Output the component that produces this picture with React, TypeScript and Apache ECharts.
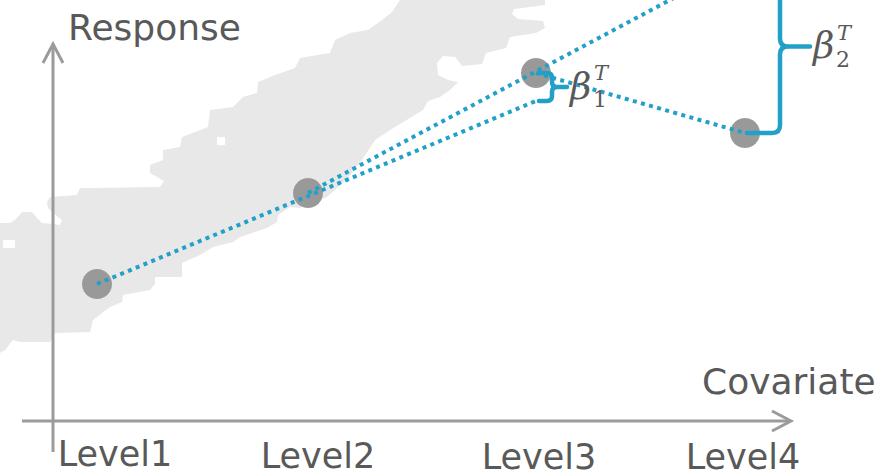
import { useEffect, useRef } from "react";
import * as echarts from "echarts";

// ---- data ----
const levelNames = ["Level1", "Level2", "Level3", "Level4"];
const levelX = [0.22, 1.275, 2.415, 3.46];
const levelResponse = [1.36, 2.27, 3.47, 2.87];
// linear trend through Level1–Level2, read at Level3
const trendAtLevel3 = 3.19;
// linear trend through Level2–Level3, read at Level4
const trendAtLevel4 = 4.6;
const betaSubscripts = ["1", "2"];
const axisNames = { x: "Covariate", y: "Response" };

// ---- style ----
const BLUE = "#22a0c8";
const GRAY_PT = "#999999";
const AXIS = "#9b9b9b";
const TXT = "#595959";
const BLOB = "#e8e8e8";
const SANS = "DejaVu Sans, Verdana, sans-serif";
const SERIF = "DejaVu Serif, serif";
const braceStart = [3, 2];
const braceOffset = [16, 35];
const braceTip = [15, 30];
const braceRadius = [5, 8];
const DOT = { color: BLUE, width: 4, type: [4, 4.4], cap: "butt" };

const blobPts = [
  [400, 0], [545, 0], [545, 5], [530, 7], [514, 9], [512, 14], [518, 19], [543, 21],
  [545, 28], [536, 33], [510, 37], [506, 48], [486, 53], [482, 64], [462, 66], [455, 57],
  [443, 56], [437, 63], [438, 75], [448, 80], [458, 82], [450, 90], [440, 97], [428, 101],
  [423, 110], [395, 127], [375, 140], [362, 160], [348, 178], [327, 197], [300, 208],
  [290, 207], [278, 215], [277, 222], [267, 228], [240, 237], [233, 242], [213, 247],
  [200, 255], [182, 263], [182, 277], [155, 277], [155, 284], [150, 290], [123, 295],
  [122, 302], [110, 307], [93, 320], [90, 332], [55, 333], [50, 342], [20, 342], [13, 340],
  [5, 350], [0, 353], [0, 223], [10, 223], [15, 220], [22, 212], [32, 212], [37, 218],
  [42, 223], [53, 224], [60, 225], [62, 220], [58, 217], [48, 208], [47, 202], [50, 197],
  [77, 195], [80, 188], [93, 188], [160, 187], [164, 181], [150, 173], [150, 165],
  [163, 160], [163, 150], [180, 147], [182, 137], [208, 127], [210, 110], [233, 107],
  [243, 97], [257, 93], [258, 82], [275, 75], [295, 68], [300, 58], [330, 53], [335, 40],
  [350, 33], [368, 30], [382, 20], [392, 12],
];

const labelRich: Record<string, any> = {};
const labelPad = [[0, 0, 0, 36], [2, 0, 0, 20], [3, 0, 0, 6], [3, 4, 0, 0]];
labelPad.forEach((p, i) => {
  labelRich["l" + i] = { padding: p, fontSize: 35, fontFamily: SANS, color: TXT };
});

export default function App() {
  const ref = useRef<HTMLDivElement>(null);
  useEffect(() => {
    if (!ref.current) return;
    const chart = echarts.init(ref.current, undefined, { renderer: "svg" });
    const option: any = {
      animation: false,
      backgroundColor: "#ffffff",
      grid: { left: 53, top: 0, width: 800, height: 420 },
      xAxis: {
        type: "value",
        min: 0,
        max: 4,
        axisLine: { show: false },
        axisTick: { show: false },
        splitLine: { show: false },
        axisLabel: {
          customValues: levelX,
          margin: 16,
          formatter: (v: number) => {
            const i = levelX.indexOf(v);
            return i < 0 ? "" : `{l${i}|${levelNames[i]}}`;
          },
          rich: labelRich,
        },
      },
      yAxis: {
        type: "value",
        min: 0,
        max: 4.2,
        axisLine: { show: false },
        axisTick: { show: false },
        splitLine: { show: false },
        axisLabel: { show: false },
      },
      graphic: [
        { type: "polygon", z: -10, shape: { points: blobPts }, style: { fill: BLOB } },
        { type: "rect", z: -9, shape: { x: 3, y: 240, width: 12, height: 8 }, style: { fill: "#fff" } },
        { type: "rect", z: -9, shape: { x: 217, y: 137, width: 8, height: 8 }, style: { fill: "#fff" } },
        { type: "line", z: -5, shape: { x1: 53, y1: 452, x2: 53, y2: 45 }, style: { stroke: AXIS, lineWidth: 3 } },
        { type: "polyline", z: -5, shape: { points: [[43, 63], [53, 44], [63, 63]] }, style: { stroke: AXIS, lineWidth: 3, fill: "none" } },
        { type: "line", z: -5, shape: { x1: 22, y1: 421, x2: 790, y2: 421 }, style: { stroke: AXIS, lineWidth: 3 } },
        { type: "polyline", z: -5, shape: { points: [[772, 411], [791, 421], [772, 431]] }, style: { stroke: AXIS, lineWidth: 3, fill: "none" } },
        { type: "text", z: -5, x: 68, y: 27.5, style: { text: axisNames.y, fill: TXT, fontSize: 36, fontFamily: SANS, align: "left", verticalAlign: "middle" } },
        { type: "text", z: -5, x: 702, y: 381.5, style: { text: axisNames.x, fill: TXT, fontSize: 36, fontFamily: SANS, align: "left", verticalAlign: "middle" } },
      ],
      series: [
        {
          type: "scatter",
          name: "levels",
          z: 2,
          symbolSize: 30,
          itemStyle: { color: GRAY_PT, opacity: 1 },
          data: levelX.map((x, i) => [x, levelResponse[i]]),
        },
        {
          type: "line",
          name: "trend12",
          z: 3,
          showSymbol: false,
          lineStyle: DOT,
          data: [[levelX[0], levelResponse[0]], [levelX[2], trendAtLevel3]],
        },
        {
          type: "line",
          name: "trend23",
          z: 3,
          showSymbol: false,
          lineStyle: DOT,
          data: [[levelX[1], levelResponse[1]], [levelX[3], trendAtLevel4]],
        },
        {
          type: "line",
          name: "actual34",
          z: 3,
          showSymbol: false,
          lineStyle: DOT,
          data: [[levelX[2], levelResponse[2]], [levelX[3], levelResponse[3]]],
        },
        {
          type: "custom",
          name: "braces",
          z: 4,
          data: [
            [levelX[2], levelResponse[2], trendAtLevel3],
            [levelX[3], levelResponse[3], trendAtLevel4],
          ],
          encode: { x: 0, y: [1, 2] },
          renderItem: (params: any, api: any) => {
            const i = params.dataIndex;
            const x = api.value(0);
            const pa = api.coord([x, api.value(1)]);
            const pb = api.coord([x, api.value(2)]);
            const x0 = pa[0] + braceStart[i];
            const xb = pa[0] + braceOffset[i];
            const xt = xb + braceTip[i];
            const r = braceRadius[i];
            const yT = Math.min(pa[1], pb[1]);
            const yB = Math.max(pa[1], pb[1]);
            const ym = (yT + yB) / 2;
            const d =
              `M${x0} ${yT} L${xb - r} ${yT} Q${xb} ${yT} ${xb} ${yT + r} L${xb} ${ym - r} ` +
              `Q${xb} ${ym} ${xb + r} ${ym} L${xt} ${ym} M${xb + r} ${ym} Q${xb} ${ym} ${xb} ${ym + r} ` +
              `L${xb} ${yB - r} Q${xb} ${yB} ${xb - r} ${yB} L${x0} ${yB}`;
            return {
              type: "group",
              children: [
                {
                  type: "path",
                  shape: { pathData: d },
                  style: { stroke: BLUE, lineWidth: 4.5, fill: null, lineJoin: "round", lineCap: "round" },
                },
                {
                  type: "text",
                  x: xt + 3,
                  y: ym - 1,
                  style: { text: "β", fill: TXT, fontSize: 37, fontFamily: SERIF, fontStyle: "italic", align: "left", verticalAlign: "middle" },
                },
                {
                  type: "text",
                  x: xt + 27,
                  y: ym - 14,
                  style: { text: "T", fill: TXT, fontSize: 21, fontFamily: SERIF, fontStyle: "italic", align: "left", verticalAlign: "middle" },
                },
                {
                  type: "text",
                  x: xt + 26,
                  y: ym + 12.5,
                  style: { text: betaSubscripts[i], fill: TXT, fontSize: 22, fontFamily: SERIF, align: "left", verticalAlign: "middle" },
                },
              ],
            };
          },
        },
      ],
    };
    chart.setOption(option);
    return () => chart.dispose();
  }, []);
  return (
    <div
      ref={ref}
      style={{ position: "fixed", left: 0, top: 0, width: 890, height: 475, background: "#fff" }}
    />
  );
}
